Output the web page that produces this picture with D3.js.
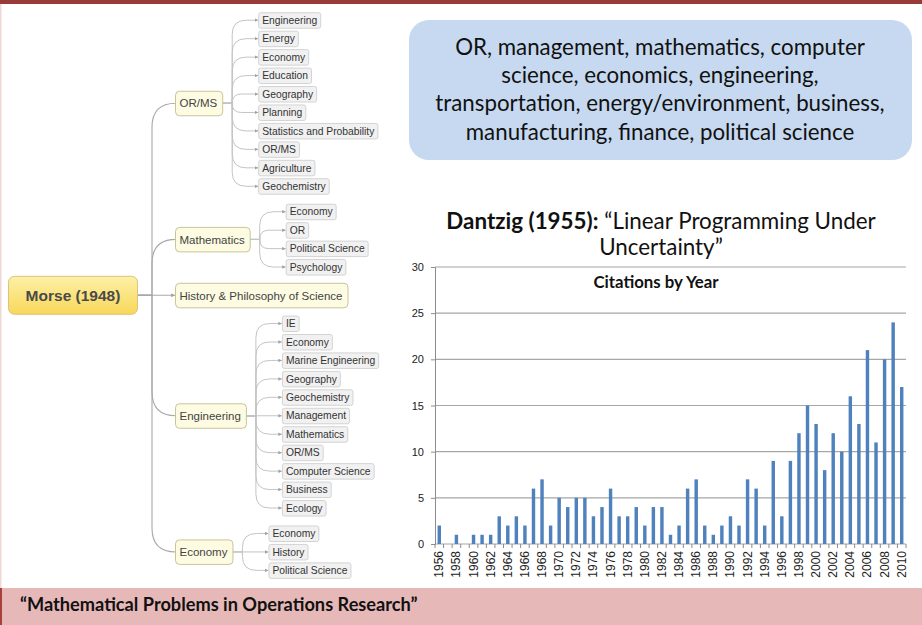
<!DOCTYPE html>
<html>
<head>
<meta charset="utf-8">
<script src="https://cdn.jsdelivr.net/npm/d3@7"></script>
<style>
  body { margin: 0; background: #fff; }
  svg { display: block; }
</style>
</head>
<body>
<svg id="slide" width="922" height="625"></svg>
<script>
// ---- data ----
var years = [1956,1957,1958,1959,1960,1961,1962,1963,1964,1965,1966,1967,1968,1969,1970,
             1971,1972,1973,1974,1975,1976,1977,1978,1979,1980,1981,1982,1983,1984,1985,
             1986,1987,1988,1989,1990,1991,1992,1993,1994,1995,1996,1997,1998,1999,2000,
             2001,2002,2003,2004,2005,2006,2007,2008,2009,2010];
var citations = [2,0,1,0,1,1,1,3,2,3,2,6,7,2,5,4,5,5,3,4,6,3,3,4,2,
                 4,4,1,2,6,7,2,1,2,3,2,7,6,2,9,3,9,12,15,13,8,12,10,16,13,21,11,20,24,17];
var yTicks = [0, 5, 10, 15, 20, 25, 30];

var rootLabel = "Morse (1948)";
var branches = ["OR/MS", "Mathematics", "History & Philosophy of Science", "Engineering", "Economy"];
var orMsFields = ["Engineering", "Energy", "Economy", "Education", "Geography", "Planning",
                  "Statistics and Probability", "OR/MS", "Agriculture", "Geochemistry"];
var mathFields = ["Economy", "OR", "Political Science", "Psychology"];
var historyFields = [];
var engFields = ["IE", "Economy", "Marine Engineering", "Geography", "Geochemistry", "Management",
                 "Mathematics", "OR/MS", "Computer Science", "Business", "Ecology"];
var econFields = ["Economy", "History", "Political Science"];

var fieldLines = ["OR, management, mathematics, computer",
                  "science, economics, engineering,",
                  "transportation, energy/environment, business,",
                  "manufacturing, finance, political science"];
var footer = "\u201cMathematical Problems in Operations Research\u201d";

var svg = d3.select("#slide");
var uiFont = "Liberation Sans, Arial, sans-serif";
var slideFont = "Lato, 'Open Sans', sans-serif";

// ---- slide frame ----
svg.append("rect").attr("x", 0).attr("y", 0).attr("width", 922).attr("height", 4).attr("fill", "#983a37");
svg.append("rect").attr("x", 0).attr("y", 4).attr("width", 1.5).attr("height", 584).attr("fill", "#f0d8d7");
svg.append("rect").attr("x", 0).attr("y", 588).attr("width", 922).attr("height", 37).attr("fill", "#e6b9b8");
svg.append("rect").attr("x", 0).attr("y", 588).attr("width", 2).attr("height", 37).attr("fill", "#a8403c");
svg.append("text").attr("x", 20).attr("y", 611)
  .attr("font-family", slideFont).attr("font-weight", "bold").attr("font-size", 18.2)
  .attr("fill", "#111").text(footer);

// ---- blue call-out box ----
svg.append("rect").attr("x", 409).attr("y", 20).attr("width", 503).attr("height", 140)
  .attr("rx", 20).attr("fill", "#c6d9f0");
svg.append("g").selectAll("text").data(fieldLines).enter().append("text")
  .attr("x", 660).attr("y", function(d, i) { return 55 + i * 28.2; })
  .attr("text-anchor", "middle").attr("font-family", slideFont).attr("font-size", 22.3)
  .attr("fill", "#111").text(function(d) { return d; });

// ---- Dantzig title ----
var t1 = svg.append("text").attr("x", 661).attr("y", 229).attr("text-anchor", "middle")
  .attr("font-family", slideFont).attr("font-size", 22.4).attr("fill", "#111");
t1.append("tspan").attr("font-weight", "bold").text("Dantzig (1955):");
t1.append("tspan").text(" \u201cLinear Programming Under");
svg.append("text").attr("x", 661).attr("y", 255).attr("text-anchor", "middle")
  .attr("font-family", slideFont).attr("font-size", 22.4).attr("fill", "#111")
  .text("Uncertainty\u201d");

// ---- citations bar chart ----
var x = d3.scaleBand().domain(years).range([435, 906]).paddingInner(0.6).paddingOuter(0.3);
var y = d3.scaleLinear().domain([0, 30]).range([544, 267]);

svg.append("g").selectAll("line").data(yTicks).enter().append("line")
  .attr("x1", 435).attr("x2", 906)
  .attr("y1", function(d) { return y(d); }).attr("y2", function(d) { return y(d); })
  .attr("stroke", "#a6a6a6").attr("stroke-width", 1.2);

var yAxis = svg.append("g").attr("transform", "translate(435,0)")
  .call(d3.axisLeft(y).tickValues(yTicks).tickSize(4).tickPadding(7));
yAxis.select(".domain").attr("stroke", "#8c8c8c");
yAxis.selectAll(".tick line").attr("stroke", "#8c8c8c");
yAxis.selectAll("text").attr("font-family", uiFont).attr("font-size", 11).attr("fill", "#222");

// category tick marks sit between bars
svg.append("g").selectAll("line").data(d3.range(years.length + 1)).enter().append("line")
  .attr("x1", function(k) { return x.range()[0] + k * x.step(); })
  .attr("x2", function(k) { return x.range()[0] + k * x.step(); })
  .attr("y1", y(0)).attr("y2", y(0) + 4)
  .attr("stroke", "#8c8c8c");

svg.append("g").selectAll("rect").data(years).enter().append("rect")
  .attr("x", function(d) { return x(d); })
  .attr("width", x.bandwidth())
  .attr("y", function(d, i) { return y(citations[i]); })
  .attr("height", function(d, i) { return y(0) - y(citations[i]); })
  .attr("fill", "#4f81bd");

svg.append("g").selectAll("text").data(years.filter(function(d, i) { return i % 2 === 0; }))
  .enter().append("text")
  .attr("transform", function(d) { return "translate(" + (x(d) + x.bandwidth() / 2 + 4) + "," + (y(0) + 7) + ") rotate(-90)"; })
  .attr("text-anchor", "end")
  .attr("font-family", uiFont).attr("font-size", 12).attr("fill", "#222")
  .text(function(d) { return d; });

svg.append("text").attr("x", 656).attr("y", 288).attr("text-anchor", "middle")
  .attr("font-family", slideFont).attr("font-weight", "bold").attr("font-size", 16.8)
  .attr("fill", "#111").text("Citations by Year");

// ---- Morse mind map ----
var children = [orMsFields, mathFields, historyFields, engFields, econFields];
var leafStep = 18.45, blockGap = 7, cursor = 11;
var nodes = branches.map(function(name, i) {
  var kids = children[i];
  var h = kids.length ? kids.length * leafStep : 24;
  var top = cursor;
  cursor += h + blockGap;
  return {
    name: name,
    y: top + h / 2,
    kids: kids.map(function(k, j) { return { name: k, y: top + (j + 0.5) * leafStep }; })
  };
});
var rootY = (11 + cursor - blockGap) / 2;

var defs = svg.append("defs");
var grad = defs.append("linearGradient").attr("id", "rootFill").attr("x1", 0).attr("y1", 0).attr("x2", 0).attr("y2", 1);
grad.append("stop").attr("offset", "0%").attr("stop-color", "#fdf1a6");
grad.append("stop").attr("offset", "100%").attr("stop-color", "#f8d75a");
defs.append("marker").attr("id", "tip").attr("viewBox", "0 0 6 6").attr("refX", 6).attr("refY", 3)
  .attr("markerWidth", 3.5).attr("markerHeight", 3.5).attr("orient", "auto")
  .append("path").attr("d", "M0,0 L6,3 L0,6 z").attr("fill", "#a0a0a0");

function elbow(x0, y0, xs, x1, y1, r) {
  var dy = y1 - y0;
  if (Math.abs(dy) < 1) return "M" + x0 + "," + y0 + "L" + x1 + "," + y1;
  var rr = Math.min(Math.abs(dy), r), s = dy > 0 ? 1 : -1;
  return "M" + x0 + "," + y0 + "L" + xs + "," + y0 +
         "Q" + xs + "," + y0 + " " + xs + "," + (y0 + s * Math.min(Math.abs(dy) / 2, 4)) +
         "L" + xs + "," + (y1 - s * rr) +
         "Q" + xs + "," + y1 + " " + (xs + rr) + "," + y1 + "L" + x1 + "," + y1;
}

var links = svg.append("g").attr("fill", "none");
var map = svg.append("g");

// root box
map.append("rect").attr("x", 8.5).attr("y", rootY - 19).attr("width", 129).attr("height", 38)
  .attr("rx", 6).attr("fill", "url(#rootFill)").attr("stroke", "#dcc27a");
map.append("text").attr("x", 73).attr("y", rootY + 5.5).attr("text-anchor", "middle")
  .attr("font-family", uiFont).attr("font-weight", "bold").attr("font-size", 15.5)
  .attr("fill", "#4a4a4a").text(rootLabel);

var branchX = 175;
nodes.forEach(function(n) {
  links.append("path").attr("d", elbow(138, rootY, 152, branchX, n.y, 24))
    .attr("stroke", "#a8a8a8").attr("stroke-width", 1.1).attr("marker-end", "url(#tip)");

  var label = map.append("text").attr("x", branchX + 4.5).attr("y", n.y + 4.2)
    .attr("font-family", uiFont).attr("font-size", 11.5).attr("fill", "#444").text(n.name);
  var w = label.node().getComputedTextLength() + 9.5;
  map.insert("rect", "text").attr("x", branchX + 0.5).attr("y", n.y - 12).attr("width", w).attr("height", 24.5)
    .attr("rx", 4).attr("fill", "#fdfbe1").attr("stroke", "#c9c49a");

  var right = branchX + w, leafX = right + 36;
  n.kids.forEach(function(k) {
    links.append("path").attr("d", elbow(right, n.y, right + 10, leafX, k.y, 14))
      .attr("stroke", "#c4c4c4").attr("stroke-width", 1).attr("marker-end", "url(#tip)");
    var kt = map.append("text").attr("x", leafX + 4).attr("y", k.y + 3.7)
      .attr("font-family", uiFont).attr("font-size", 10.3).attr("fill", "#333").text(k.name);
    var kw = kt.node().getComputedTextLength() + 7;
    map.insert("rect", "text").attr("x", leafX + 0.5).attr("y", k.y - 7.5).attr("width", kw).attr("height", 15.5)
      .attr("rx", 2).attr("fill", "#f1f1f1").attr("stroke", "#d3d3d3");
  });
});
</script>
</body>
</html>
